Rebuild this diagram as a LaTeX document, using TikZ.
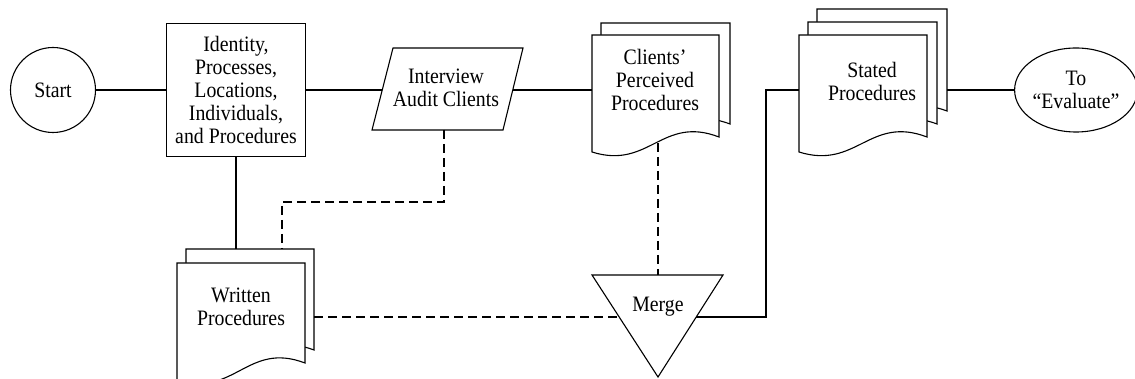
\documentclass[tikz,border=0pt]{standalone}
\usepackage{fontspec}
\setmainfont{Liberation Serif}[FakeStretch=0.9]
\usetikzlibrary{shapes.geometric}

% document sheet with a wavy bottom edge: left, top, right, bottom-left, bottom-right
\newcommand\docsheet[5]{%
  \draw[outline] (#1,#4) -- (#1,#2) -- (#3,#2) -- (#3,#5)
    .. controls ({#1+0.55*(#3-#1)},{#5-22}) and ({#1+0.45*(#3-#1)},{#4+18}) .. (#1,#4) -- cycle;}

\begin{document}
\begin{tikzpicture}[x=1pt,y=-1pt,
  every node/.style={font=\fontsize{22}{23}\selectfont, align=center},
  outline/.style={draw, line width=1.1pt, fill=white},
  flow/.style={line width=1.1pt},
  link/.style={line width=1.1pt, dash pattern=on 9pt off 5pt}]
\useasboundingbox (0,0) rectangle (1135,379);

% terminals and process box
\node[outline, circle, minimum size=85pt, inner sep=0pt] (start) at (53,90) {Start};
\node[outline, rectangle, minimum width=139pt, minimum height=133pt, inner sep=0pt]
  (idbox) at (236,90) {Identity,\\Processes,\\Locations,\\Individuals,\\and Procedures};
\node[outline, ellipse, minimum width=118pt, minimum height=84pt, inner sep=0pt]
  (eval) at (1076,90) {To\\“Evaluate”};

% interview (parallelogram)
\draw[outline] (393,48) -- (523,48) -- (503,130) -- (372,130) -- cycle;
\node (iv) at (446,88) {Interview\\Audit Clients};
\coordinate (iv-w) at (382,90);
\coordinate (iv-e) at (513,90);
\coordinate (iv-s) at (444,130);

% clients' perceived procedures (two sheets)
\docsheet{601}{23}{730}{140}{124}
\docsheet{592}{35}{719}{152}{137}
\node (cl) at (655,80) {Clients’\\Perceived\\Procedures};
\coordinate (cl-w) at (592,90);
\coordinate (cl-s) at (658,143);

% stated procedures (three sheets)
\docsheet{817}{9}{947}{127}{111}
\docsheet{808}{22}{937}{140}{124}
\docsheet{799}{35}{927}{152}{137}
\node (st) at (872,81) {Stated\\Procedures};
\coordinate (st-w) at (799,90);
\coordinate (st-e) at (947,90);

% written procedures (two sheets)
\docsheet{186}{249}{314}{367}{350}
\docsheet{177}{263}{305}{380}{363}
\node (wr) at (241,307) {Written\\Procedures};
\coordinate (wr-n) at (282,249);
\coordinate (wr-e) at (314,317);

% merge (inverted triangle)
\draw[outline] (592,275) -- (723,275) -- (658,377) -- cycle;
\node (merge) at (658,307) {Merge};
\coordinate (mg-n) at (658,275);
\coordinate (mg-w) at (619,317);
\coordinate (mg-e) at (696,317);

% solid flow lines
\draw[flow] (start) -- (idbox);
\draw[flow] (idbox) -- (iv-w);
\draw[flow] (iv-e) -- (cl-w);
\draw[flow] (idbox.south) -- (idbox.south |- wr-n);
\coordinate (rise) at (766,317);
\draw[flow] (mg-e) -- (rise) |- (st-w);
\draw[flow] (st-e) -- (eval);

% dashed links
\coordinate (bend) at (444,202);
\draw[link] (iv-s) -- (bend) -| (wr-n);
\draw[link] (cl-s) -- (mg-n);
\draw[link] (wr-e) -- (mg-w);
\end{tikzpicture}
\end{document}
